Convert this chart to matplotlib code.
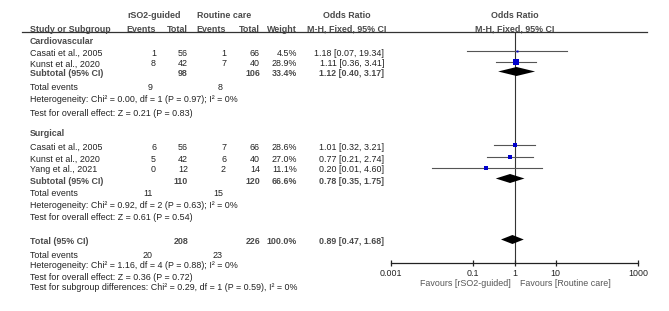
import numpy as np
import matplotlib
matplotlib.use("Agg")
import matplotlib.pyplot as plt

plt.rcParams["font.family"] = ["Liberation Sans", "DejaVu Sans"]

# --- data ---
cv_studies = ["Casati et al., 2005", "Kunst et al., 2020"]
cv_events_g = [1, 8]
cv_total_g = [56, 42]
cv_events_r = [1, 7]
cv_total_r = [66, 40]
cv_weight = [4.5, 28.9]
cv_or = [1.18, 1.11]
cv_lo = [0.07, 0.36]
cv_hi = [19.34, 3.41]
cv_sub = [1.12, 0.40, 3.17]
cv_sub_totals = [98, 106, 33.4]
cv_sub_events = [9, 8]

surg_studies = ["Casati et al., 2005", "Kunst et al., 2020", "Yang et al., 2021"]
surg_events_g = [6, 5, 0]
surg_total_g = [56, 42, 12]
surg_events_r = [7, 6, 2]
surg_total_r = [66, 40, 14]
surg_weight = [28.6, 27.0, 11.1]
surg_or = [1.01, 0.77, 0.20]
surg_lo = [0.32, 0.21, 0.01]
surg_hi = [3.21, 2.74, 4.60]
surg_sub = [0.78, 0.35, 1.75]
surg_sub_totals = [110, 120, 66.6]
surg_sub_events = [11, 15]

all_sub = [0.89, 0.47, 1.68]
all_totals = [208, 226, 100.0]
all_events = [20, 23]

cv_stats = ["Heterogeneity: Chi\u00b2 = 0.00, df = 1 (P = 0.97); I\u00b2 = 0%",
            "Test for overall effect: Z = 0.21 (P = 0.83)"]
surg_stats = ["Heterogeneity: Chi\u00b2 = 0.92, df = 2 (P = 0.63); I\u00b2 = 0%",
              "Test for overall effect: Z = 0.61 (P = 0.54)"]
all_stats = ["Heterogeneity: Chi\u00b2 = 1.16, df = 4 (P = 0.88); I\u00b2 = 0%",
             "Test for overall effect: Z = 0.36 (P = 0.72)",
             "Test for subgroup differences: Chi\u00b2 = 0.29, df = 1 (P = 0.59), I\u00b2 = 0%"]

ticks = [0.001, 0.1, 1, 10, 1000]
tick_labels = ["0.001", "0.1", "1", "10", "1000"]

# --- layout (pixel rows / columns) ---
W, H = 669, 311
FS = 6.4
TXT = "#222222"
HEAD = "#4a4a4a"
CI_COL = "#555555"
SQ_COL = "#0000cc"
X_LABEL = 30
COLS = [156, 188, 226, 260, 297, 384]   # right edges of data columns
AX_L, AX_R, AX_TOP, AX_BOT = 391, 638, 31.5, 263
MARK_DY = -2.5

fig = plt.figure(figsize=(W / 100, H / 100), dpi=100)
ax = fig.add_axes([0, 0, 1, 1])
ax.set_xlim(0, W)
ax.set_ylim(H, 0)
ax.axis("off")

fx = fig.add_axes([AX_L / W, (H - AX_BOT) / H, (AX_R - AX_L) / W, (AX_BOT - AX_TOP) / H])
fx.set_xscale("log")
fx.set_xlim(1e-3, 1e3)
fx.set_ylim(AX_BOT, AX_TOP)
fx.patch.set_alpha(0)
for s in ["top", "left", "right"]:
    fx.spines[s].set_visible(False)
fx.spines["bottom"].set_linewidth(0.9)
fx.spines["bottom"].set_color("#222222")
fx.set_yticks([])
fx.set_xticks(ticks)
fx.set_xticklabels(tick_labels)
fx.xaxis.set_minor_locator(matplotlib.ticker.NullLocator())
fx.tick_params(axis="x", direction="inout", length=5, width=0.9, labelsize=FS,
               pad=2, colors="#222222")
fx.axvline(1, color="#333333", lw=0.8, zorder=1)


def txt(x, y, s, ha="left", bold=False, color=TXT):
    ax.text(x, y, s, ha=ha, va="center", fontsize=FS,
            fontweight="bold" if bold else "normal", color=color)


# headers
txt((127 + 182) / 2, 15, "rSO2-guided", ha="center", bold=True, color=HEAD)
txt((197 + 251) / 2, 15, "Routine care", ha="center", bold=True, color=HEAD)
txt(347, 15, "Odds Ratio", ha="center", bold=True, color=HEAD)
txt(515, 15, "Odds Ratio", ha="center", bold=True, color=HEAD)
txt(X_LABEL, 29, "Study or Subgroup", bold=True, color=HEAD)
for x, s in zip(COLS[:5], ["Events", "Total", "Events", "Total", "Weight"]):
    txt(x, 29, s, ha="right", bold=True, color=HEAD)
txt(347, 29, "M-H, Fixed, 95% CI", ha="center", bold=True, color=HEAD)
txt(515, 29, "M-H, Fixed, 95% CI", ha="center", bold=True, color=HEAD)
ax.plot([22, 647], [31.5, 31.5], color="#333333", lw=0.9)


def diamond(y, est, lo, hi, h=4.5):
    fx.fill([lo, est, hi, est], [y, y - h, y, y + h], color="black", lw=0, zorder=3)


def subgroup(title, y0, studies, eg, tg, er, tr, w, o, lo, hi, sub, sub_tot,
             sub_ev, stats, rows):
    txt(X_LABEL, y0, title, bold=True, color=HEAD)
    for i, name in enumerate(studies):
        y = rows[i]
        txt(X_LABEL, y, name)
        for x, v in zip(COLS, [eg[i], tg[i], er[i], tr[i], f"{w[i]:.1f}%",
                               f"{o[i]:.2f} [{lo[i]:.2f}, {hi[i]:.2f}]"]):
            txt(x, y, str(v), ha="right")
        fx.plot([lo[i], hi[i]], [y + MARK_DY] * 2, color=CI_COL, lw=0.8, zorder=2)
        fx.plot(o[i], y + MARK_DY, marker="s", ms=0.67 * np.sqrt(w[i]),
                color=SQ_COL, mew=0, zorder=4)
    ys = rows[len(studies)]
    txt(X_LABEL, ys, "Subtotal (95% CI)", bold=True, color=HEAD)
    txt(COLS[1], ys, str(sub_tot[0]), ha="right", bold=True, color=HEAD)
    txt(COLS[3], ys, str(sub_tot[1]), ha="right", bold=True, color=HEAD)
    txt(COLS[4], ys, f"{sub_tot[2]:.1f}%", ha="right", bold=True, color=HEAD)
    txt(COLS[5], ys, f"{sub[0]:.2f} [{sub[1]:.2f}, {sub[2]:.2f}]", ha="right",
        bold=True, color=HEAD)
    diamond(ys + MARK_DY, *sub)
    ye = rows[len(studies) + 1]
    txt(X_LABEL, ye, "Total events")
    txt(COLS[0] - 3, ye, str(sub_ev[0]), ha="right")
    txt(COLS[2] - 3, ye, str(sub_ev[1]), ha="right")
    for k, s in enumerate(stats):
        txt(X_LABEL, rows[len(studies) + 2 + k], s)


subgroup("Cardiovascular", 42, cv_studies, cv_events_g, cv_total_g, cv_events_r,
         cv_total_r, cv_weight, cv_or, cv_lo, cv_hi, cv_sub, cv_sub_totals,
         cv_sub_events, cv_stats, [53, 64, 74, 88, 100, 113])
subgroup("Surgical", 134, surg_studies, surg_events_g, surg_total_g, surg_events_r,
         surg_total_r, surg_weight, surg_or, surg_lo, surg_hi, surg_sub,
         surg_sub_totals, surg_sub_events, surg_stats, [147, 159, 170, 181, 194, 206, 218])

# overall
yt = 242
txt(X_LABEL, yt, "Total (95% CI)", bold=True, color=HEAD)
txt(COLS[1], yt, str(all_totals[0]), ha="right", bold=True, color=HEAD)
txt(COLS[3], yt, str(all_totals[1]), ha="right", bold=True, color=HEAD)
txt(COLS[4], yt, f"{all_totals[2]:.1f}%", ha="right", bold=True, color=HEAD)
txt(COLS[5], yt, f"{all_sub[0]:.2f} [{all_sub[1]:.2f}, {all_sub[2]:.2f}]",
    ha="right", bold=True, color=HEAD)
diamond(yt + MARK_DY, *all_sub)
txt(X_LABEL, 255, "Total events")
txt(COLS[0] - 3, 255, str(all_events[0]), ha="right")
txt(COLS[2] - 3, 255, str(all_events[1]), ha="right")
for y, s in zip([266, 277, 288], all_stats):
    txt(X_LABEL, y, s)

# favours labels
x1 = AX_L + (AX_R - AX_L) / 2
txt(x1 - 4, 284, "Favours [rSO2-guided]", ha="right", color="#555555")
txt(x1 + 5, 284, "Favours [Routine care]", color="#555555")

fig.savefig("out.png", dpi=100)
